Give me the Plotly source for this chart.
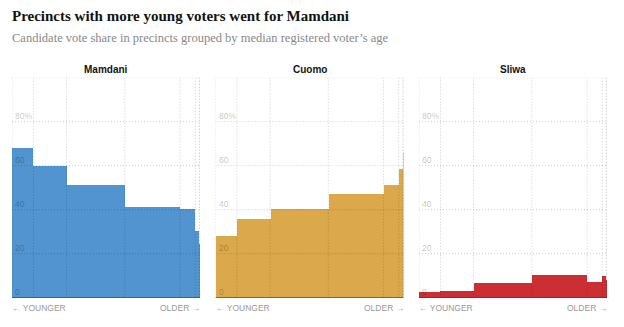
import plotly.graph_objects as go
import numpy as np

# Share of precincts in each age group (bar widths, %), youngest -> oldest
bin_share = [11.4, 17.6, 31.0, 29.4, 8.1, 2.1, 0.4]
candidates = ["Mamdani", "Cuomo", "Sliwa"]
mamdani = [68.0, 60.0, 51.5, 41.2, 40.3, 30.4, 24.6]
cuomo = [28.3, 35.8, 40.3, 47.4, 51.2, 58.8, 65.7]
sliwa = [2.7, 3.2, 6.8, 10.5, 7.2, 10.0, 8.3]
colors = ["#5194cf", "#dba84c", "#cc2f33"]
y_ticks = [0, 20, 40, 60, 80]
y_ticktext = ["0", "20", "40", "60", "80%"]
y_grid = [20, 40, 60, 80, 100]

W, H = 624, 327
panels_px = [(12, 200), (215.5, 403.5), (419, 607)]
y_bot, y_top = 1 - 297.7 / H, 1 - 77.7 / H

edges = np.concatenate([[0], np.cumsum(bin_share)])
mids = (edges[:-1] + edges[1:]) / 2

fig = go.Figure()
series = [mamdani, cuomo, sliwa]
shapes = []
annotations = []
grid_col = "rgba(0,0,0,0.2)"
grid_dash = "1px,2px"
for i, (name, vals, col) in enumerate(zip(candidates, series, colors)):
    sfx = "" if i == 0 else str(i + 1)
    fig.add_trace(go.Bar(
        x=mids, y=vals, width=bin_share, marker=dict(color=col, line=dict(width=0)),
        xaxis="x" + sfx, yaxis="y" + sfx, showlegend=False, hoverinfo="skip"))
    x0, x1 = panels_px[i]
    fig.update_layout(**{
        "xaxis" + sfx: dict(domain=[x0 / W, x1 / W], range=[0, edges[-1]], showgrid=False,
                             zeroline=False, showticklabels=False, ticks="", anchor="y" + sfx,
                             fixedrange=True),
        "yaxis" + sfx: dict(domain=[y_bot, y_top], range=[0, 100], showgrid=False,
                             zeroline=False, showticklabels=False, ticks="", anchor="x" + sfx,
                             fixedrange=True),
    })
    xr, yr = "x" + sfx, "y" + sfx
    for e in edges:
        shapes.append(dict(type="line", xref=xr, yref=yr, x0=e, x1=e, y0=0, y1=100, layer="above",
                           line=dict(color=grid_col, width=1, dash=grid_dash)))
    for g in y_grid:
        shapes.append(dict(type="line", xref=xr, yref=yr, x0=0, x1=edges[-1], y0=g, y1=g, layer="above",
                           line=dict(color=grid_col, width=1, dash=grid_dash)))
    shapes.append(dict(type="line", xref=xr, yref=yr, x0=0, x1=edges[-1], y0=0, y1=0, layer="above",
                       line=dict(color="rgba(0,0,0,0.6)", width=1.2)))
    for tv, tt in zip(y_ticks, y_ticktext):
        annotations.append(dict(text=tt, x=0, y=tv, xref=xr, yref=yr, xanchor="left", yanchor="middle",
                                xshift=1, yshift=6, showarrow=False,
                                font=dict(family="Liberation Sans", size=8.5, color="rgba(0,0,0,0.26)")))
    annotations.append(dict(text="<b>" + name + "</b>", x=(x0 + x1) / 2 / W, y=1 - 69 / H,
                            xref="paper", yref="paper", xanchor="center", yanchor="middle", showarrow=False,
                            font=dict(family="Liberation Sans", size=10, color="#121212")))
    annotations.append(dict(text="← YOUNGER", x=x0 / W, y=1 - 308 / H, xref="paper", yref="paper",
                            xanchor="left", yanchor="middle", showarrow=False, xshift=-2,
                            font=dict(family="Liberation Sans", size=8.5, color="#999999")))
    annotations.append(dict(text="OLDER →", x=x1 / W, y=1 - 308 / H, xref="paper", yref="paper",
                            xanchor="right", yanchor="middle", showarrow=False, xshift=2,
                            font=dict(family="Liberation Sans", size=8.5, color="#999999")))

annotations.append(dict(text="<b>Precincts with more young voters went for Mamdani</b>", x=12 / W, y=1 - 16 / H,
                        xref="paper", yref="paper", xanchor="left", yanchor="middle", showarrow=False, xshift=-2,
                        font=dict(family="Liberation Serif", size=15, color="#121212")))
annotations.append(dict(text="Candidate vote share in precincts grouped by median registered voter’s age",
                        x=12 / W, y=1 - 38 / H, xref="paper", yref="paper", xanchor="left", yanchor="middle",
                        showarrow=False, xshift=-2,
                        font=dict(family="Liberation Serif", size=12.5, color="#888888")))

fig.update_layout(width=W, height=H, margin=dict(l=0, r=0, t=0, b=0), paper_bgcolor="white",
                  plot_bgcolor="white", bargap=0, shapes=shapes, annotations=annotations)
fig.write_html("out.html")
